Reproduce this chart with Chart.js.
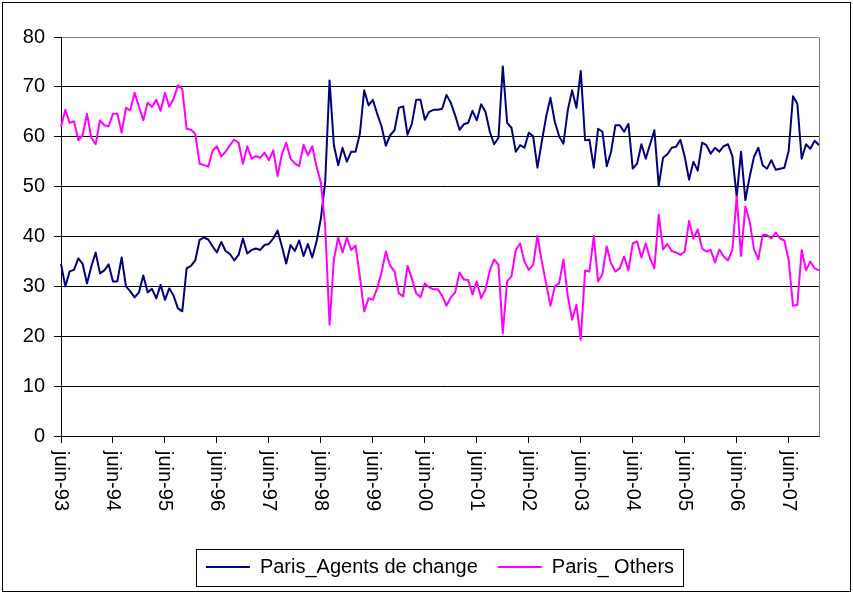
<!DOCTYPE html>
<html><head><meta charset="utf-8">
<script src="https://cdn.jsdelivr.net/npm/chart.js@4.4.1/dist/chart.umd.min.js"></script>
<style>html,body{margin:0;padding:0;background:#fff;}canvas{display:block;}</style>
</head><body>
<canvas id="c" width="853" height="594"></canvas>
<script>
const monthNames = ['janv','févr','mars','avr','mai','juin','juil','août','sept','oct','nov','déc'];
const categories = [];
for (let i = 0; i < 176; i++) {
  const m = (5 + i) % 12;
  const y = 1993 + Math.floor((5 + i) / 12);
  categories.push(monthNames[m] + '-' + String(y % 100).padStart(2, '0'));
}
const tickLabels = ['juin-93','juin-94','juin-95','juin-96','juin-97','juin-98','juin-99','juin-00','juin-01','juin-02','juin-03','juin-04','juin-05','juin-06','juin-07'];

const agents = [
  34.5, 30, 33, 33.3, 35.6, 34.5, 30.6, 34, 36.8, 32.6, 33.2, 34.4,
  31, 31, 35.8, 30, 29, 27.8, 28.8, 32.2, 28.8, 29.5, 27.6, 30.3,
  27.3, 29.6, 28.1, 25.6, 25, 33.6, 34.1, 35.2, 39.3, 39.8, 39.4, 38,
  36.8, 38.9, 37.1, 36.5, 35.2, 36.3, 39.6, 36.6, 37.3, 37.6, 37.3, 38.3,
  38.5, 39.6, 41.2, 38, 34.6, 38.3, 37.1, 39.2, 36.1, 38.5, 35.8, 39,
  43.6, 51, 71.3, 58.3, 54.3, 57.8, 55, 57, 57, 60.6, 69.3, 66.3,
  67.4, 64.6, 62.1, 58.2, 60.3, 61.3, 65.8, 66.1, 60.4, 62.6, 67.4, 67.4,
  63.4, 65, 65.4, 65.4, 65.6, 68.4, 66.8, 64.3, 61.4, 62.5, 62.8, 65.2,
  63.3, 66.5, 65, 61, 58.5, 59.8, 74.1, 62.8, 61.8, 57, 58.3, 57.8,
  60.8, 60.1, 53.8, 59, 64, 67.8, 63, 60.1, 58.6, 65.3, 69.3, 65.8,
  73.2, 59.3, 59.4, 53.8, 61.6, 61, 54.1, 57, 62.3, 62.3, 61, 62.6,
  53.6, 54.6, 58.5, 55.6, 58.5, 61.3, 50.1, 55.8, 56.5, 57.8, 58, 59.4,
  56, 51.4, 55, 53.2, 58.8, 58.3, 56.6, 57.8, 57, 58.1, 58.5, 56.1,
  48, 57, 47.3, 52, 56, 57.8, 54.3, 53.6, 55.3, 53.4, 53.6, 53.8,
  57.2, 68.1, 66.6, 55.6, 58.5, 57.6, 59.2, 58.3
];
const others = [
  62, 65.4, 62.8, 63.1, 59.3, 60.3, 64.6, 59.8, 58.5, 63.3, 62.3, 62.1,
  64.6, 64.6, 60.8, 65.8, 65.3, 68.8, 66, 63.3, 66.8, 66, 67.4, 65.2,
  68.8, 66, 67.6, 70.3, 69.6, 61.6, 61.4, 60.6, 54.6, 54.3, 54, 57.2,
  58.1, 56, 57, 58.3, 59.4, 58.8, 54.6, 58.1, 55.6, 56.1, 55.8, 56.8,
  55.3, 57.3, 52.1, 56.5, 58.8, 55.6, 54.6, 54.1, 58.4, 56.3, 58.1, 54,
  50.8, 42, 22.3, 35.4, 39.8, 36.8, 39.8, 37.3, 38.2, 32, 25, 27.6,
  27.3, 29.6, 32.8, 37, 34.1, 33, 28.6, 28, 34.1, 31.6, 28.6, 27.8,
  30.6, 29.8, 29.4, 29.4, 28.1, 26.1, 27.8, 28.8, 32.8, 31.4, 31.3, 28.4,
  31, 27.6, 29.4, 33.2, 35.4, 34.3, 20.6, 31, 32, 37.3, 38.6, 35,
  33.3, 34.3, 40.1, 35, 30.6, 26.1, 30, 30.6, 35.4, 28.1, 23.3, 26.3,
  19.3, 33.2, 33, 40.1, 31, 32.5, 38, 34.6, 33, 33.6, 36, 33.2,
  38.6, 39, 35.8, 38.6, 35.6, 33.6, 44.4, 37.4, 38.5, 37.1, 36.8, 36.3,
  37, 43.1, 39.6, 41.4, 37.6, 37, 37.3, 34.8, 37.4, 36, 35.2, 37.3,
  48, 36.1, 46, 43, 37.4, 35.4, 40.3, 40.3, 39.6, 40.8, 39.6, 39.2,
  35.3, 26.1, 26.3, 37.3, 33.2, 35, 33.6, 33.2
];
const seriesNames = ['Paris_Agents de change', 'Paris_ Others'];
const seriesColors = ['#000080', '#FF00FF'];

const framePlugin = {
  id: 'frame',
  beforeDraw(chart) {
    const ctx = chart.ctx;
    ctx.save();
    ctx.fillStyle = '#ffffff';
    ctx.fillRect(0, 0, chart.width, chart.height);
    ctx.restore();
  },
  afterDraw(chart) {
    const ctx = chart.ctx, a = chart.chartArea;
    ctx.save();
    ctx.lineWidth = 1;
    ctx.strokeStyle = '#808080';
    ctx.beginPath();
    const rx = Math.round(a.right) + 0.5;
    ctx.moveTo(rx, Math.round(a.top) + 0.5);
    ctx.lineTo(rx, Math.round(a.bottom) + 0.5);
    ctx.stroke();
    const hb = chart.legend && chart.legend.legendHitBoxes;
    if (hb && hb.length) {
      const first = hb[0], last = hb[hb.length - 1];
      const cy = first.top + first.height / 2;
      const l = Math.round(first.left - 10) + 0.5;
      const r = Math.round(last.left + last.width + 9) + 0.5;
      const t = Math.round(cy - 18) + 0.5;
      const b = Math.round(cy + 19) + 0.5;
      ctx.strokeStyle = '#000000';
      ctx.strokeRect(l, t, r - l, b - t);
    }
    ctx.strokeStyle = '#000000';
    ctx.strokeRect(2.5, 2.5, 848, 589);
    ctx.restore();
  }
};

Chart.defaults.font.family = "'Liberation Sans', Arial, sans-serif";
Chart.defaults.font.size = 20;
Chart.defaults.color = '#000000';

new Chart(document.getElementById('c'), {
  type: 'line',
  data: {
    labels: categories,
    datasets: [
      { label: seriesNames[0], data: agents, borderColor: seriesColors[0], backgroundColor: seriesColors[0],
        borderWidth: 2, pointRadius: 0, tension: 0, borderJoinStyle: 'round', order: 1 },
      { label: seriesNames[1], data: others, borderColor: seriesColors[1], backgroundColor: seriesColors[1],
        borderWidth: 2, pointRadius: 0, tension: 0, borderJoinStyle: 'round', order: 0 }
    ]
  },
  options: {
    responsive: false,
    animation: false,
    devicePixelRatio: 1,
    layout: { padding: { top: 37, right: 34, bottom: 7, left: 0 } },
    plugins: {
      legend: {
        position: 'bottom',
        fullSize: false,
        labels: {
          usePointStyle: true, pointStyle: 'line', pointStyleWidth: 44, padding: 20,
          color: '#000000', font: { size: 20 },
          sort: (a, b) => a.datasetIndex - b.datasetIndex
        }
      },
      tooltip: { enabled: false }
    },
    scales: {
      x: {
        type: 'category',
        offset: false,
        grid: { drawOnChartArea: false, drawTicks: true, tickLength: 7, color: '#000000', tickColor: '#000000', offset: false },
        border: { display: true, color: '#000000', width: 1 },
        ticks: { autoSkip: false, minRotation: -90, maxRotation: -90, padding: 68, color: '#000000', font: { size: 20 } },
        afterBuildTicks: s => { s.ticks = s.ticks.filter(t => tickLabels.includes(categories[t.value])); },
        afterFit: s => {
          s.height = 101;
          s.paddingLeft = 0; s.paddingRight = 0; s.paddingTop = 0; s.paddingBottom = 0;
        }
      },
      y: {
        min: 0, max: 80,
        ticks: { stepSize: 10, padding: 9, color: '#000000', font: { size: 20 } },
        grid: { color: c => (c.tick && c.tick.value === 80) ? '#808080' : '#000000', tickColor: '#000000', tickLength: 7, lineWidth: 1 },
        border: { display: true, color: '#000000', width: 1 },
        afterFit: s => { s.width = 61; }
      }
    }
  },
  plugins: [framePlugin]
});
</script>
</body></html>
